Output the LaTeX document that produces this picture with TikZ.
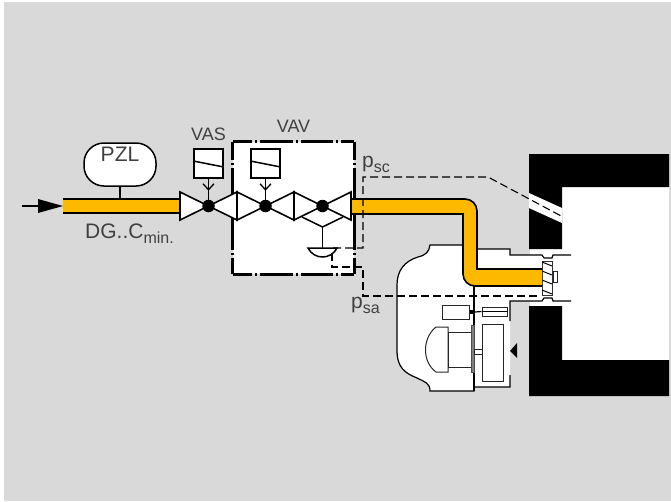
\documentclass[tikz,border=0pt]{standalone}
\usepackage{fontspec}
\setmainfont{Liberation Sans}
\usepackage{color}
\definecolor{bggray}{HTML}{D9D9D9}
\definecolor{gasyellow}{HTML}{FDB900}
\tikzstyle{lbl}=[inner sep=0pt,anchor=base west,text=black!75,font=\fontsize{21}{21}\selectfont]
\tikzstyle{smalllbl}=[lbl,anchor=base,font=\fontsize{18}{18}\selectfont]
\tikzstyle{ln}=[line width=1.2pt,black]
\tikzstyle{pipeln}=[line width=1.6pt,black]
\tikzstyle{vline}=[line width=1.6pt,draw=black,fill=white,line join=miter]
\tikzstyle{dot}=[circle,fill=black,draw=none,minimum size=12.5pt,inner sep=0pt]
\tikzstyle{actbox}=[rectangle,draw=black,line width=1.5pt,fill=white,minimum width=29pt,minimum height=29pt,inner sep=0pt]
\tikzstyle{dashln}=[line width=1.1pt,black,dash pattern=on 8pt off 4pt]
\tikzstyle{frameln}=[line width=2.7pt,black]
\tikzstyle{partbox}=[rectangle,draw=black!85,line width=1pt,fill=white,inner sep=0pt]
\newcommand{\lowtxt}[1]{\raisebox{-5pt}{\fontsize{16}{16}\selectfont #1}}

\begin{document}
\begin{tikzpicture}[x=1pt,y=-1pt]
  \useasboundingbox (0,0) rectangle (671,501);
  \fill[bggray] (4,2) rectangle (671,501);
  % burner and chamber
  \fill[white] (430,245) -- (477,245) -- (477,249) -- (510,249) -- (510,255) -- (530,255) -- (530,249)
    -- (562,249) -- (562,187) -- (669,187) -- (669,360) -- (562,360) -- (562,306) -- (530,306) -- (530,301)
    -- (510,301) -- (510,387) -- (474,387) -- (474,391) -- (430,391) .. controls (430,383) and (425,382) .. (417,378)
    .. controls (405,373) and (397,368) .. (397,350) -- (397,285) .. controls (397,270) and (405,261) .. (418,257)
    .. controls (426,255) and (429,252) .. (430,245) -- cycle;
  \fill[black] (529,154) -- (669,154) -- (669,187) -- (562,187) -- (562,249) -- (529,249) -- cycle;
  \fill[black] (529,306) -- (562,306) -- (562,360) -- (669,360) -- (669,396) -- (529,396) -- cycle;
  \fill[white] (529,193) -- (562,208) -- (562,223) -- (529,208) -- cycle;
  \draw[ln] (463,245) -- (430,245) .. controls (429,252) and (426,255) .. (418,257)
    .. controls (405,261) and (397,270) .. (397,285) -- (397,350) .. controls (397,368) and (405,373) .. (417,378)
    .. controls (425,382) and (430,383) .. (430,391) -- (474,391) -- (474,387) -- (510,387) -- (510,375);
  \draw[ln] (474,286) -- (474,391);
  \draw[ln] (477,249) -- (510,249) -- (510,255) -- (542,255) -- (544,258) -- (552,258) -- (553,255) -- (571,255);
  \draw[ln] (510,321) -- (510,301) -- (542,301) -- (544,298) -- (552,298) -- (553,301) -- (571,301);
  % motor
  \node[partbox,minimum width=27pt,minimum height=14pt] (sensor) at (455.5,312) {};
  \node[partbox,minimum width=25pt,minimum height=9pt] (rod) at (494.5,311.5) {};
  \draw[line width=0.8pt] (rod.west) -- (rod.east);
  \draw[line width=3.5pt] (sensor.east) -- (475,312);
  \draw[ln] (475,312) -- (rod.west);
  \draw[partbox] (448,327) -- (436,327) .. controls (422,338) and (422,362) .. (436,372) -- (448,372) -- cycle;
  \node[partbox,minimum width=24pt,minimum height=35pt] (motor) at (460,349.5) {};
  \node[rectangle,draw=black!70,fill=gray,line width=0.5pt,minimum width=2.5pt,minimum height=47pt,inner sep=0pt] (flange) at (472.8,348.5) {};
  \node[partbox,minimum width=21pt,minimum height=57pt] (wheel) at (492.5,352.5) {};
  \node[partbox,minimum width=8pt,minimum height=5pt] (shaft) at (478,351.5) {};
  \fill[black] (510,351) -- (517,343) -- (517,358) -- cycle;
  % feed pipe
  \fill[gasyellow] (63,199) rectangle (180,213);
  \draw[pipeln] (63,199) -- (180,199);
  \draw[pipeln] (63,213) -- (180,213);
  \draw[line width=1.8pt] (22,206) -- (40,206);
  \fill[black] (63,206) -- (38,199) -- (38,213) -- cycle;
  % burner head
  \node[rectangle,draw=black!80,line width=1pt,fill=white,minimum width=10pt,minimum height=34pt,inner sep=0pt] (head) at (547,278) {};
  \foreach \y in {262,271,280,290} {
    \draw[line width=1pt] (542,\y) -- (552,\y+4);
  }
  \node[partbox,minimum width=4pt,minimum height=11pt] (tip) at (555.5,276.5) {};
  % VAV frame
  \node[rectangle,fill=white,minimum width=121pt,minimum height=132pt,inner sep=0pt] (vav) at (293.5,208) {};
  \draw[frameln,dash pattern=on 18pt off 3pt on 2pt off 3pt on 82pt off 3pt on 2pt off 3pt on 30pt] (vav.north west) -- (vav.south west);
  \draw[frameln,dash pattern=on 18pt off 3pt on 2pt off 3pt on 82pt off 3pt on 2pt off 3pt on 30pt] (vav.north east) -- (vav.south east);
  \draw[frameln,dash pattern=on 19pt off 3pt on 2pt off 3pt on 33pt off 3pt on 2pt off 3pt on 32pt off 3pt on 2pt off 3pt on 30pt] (vav.north west) -- (vav.north east);
  \draw[frameln,dash pattern=on 19pt off 3pt on 2pt off 3pt on 33pt off 3pt on 2pt off 3pt on 32pt off 3pt on 2pt off 3pt on 30pt] (vav.south west) -- (vav.south east);
  % burner pipe
  \fill[gasyellow] (351,199) [rounded corners=12pt] -- (477,199) [sharp corners] -- (477,269) -- (542,269)
    -- (542,286) [rounded corners=12pt] -- (463,286) [sharp corners] -- (463,214) -- (351,214) -- cycle;
  \draw[pipeln] (351,199) [rounded corners=12pt] -- (477,199) [sharp corners] -- (477,269) -- (542,269);
  \draw[pipeln] (542,286) [rounded corners=12pt] -- (463,286) [sharp corners] -- (463,214) -- (351,214);
  % PZL
  \node[rectangle,rounded corners=20pt,draw=black,line width=1.5pt,fill=white,minimum width=72pt,minimum height=43pt,inner sep=0pt] (pzl) at (120,164.5) {};
  \coordinate (tap) at (120,199);
  \draw[line width=2.2pt] (pzl.south) -- (tap);
  % valves
  \coordinate (vasc) at (208.5,206);
  \coordinate (vavc) at (265.5,206);
  \coordinate (vavd) at (322.5,206);
  \foreach \c in {vasc,vavc,vavd} {
    \draw[vline] (\c) -- ++(-28.5,-14) -- ++(0,28) -- cycle;
    \draw[vline] (\c) -- ++(28.5,-14) -- ++(0,28) -- cycle;
  }
  \coordinate (difftop) at (322.5,248);
  \draw[line width=1.5pt] (302,217) -- (322.5,227) -- (343,217);
  \draw[line width=1.5pt] (322.5,227) -- (difftop);
  \draw[line width=1.5pt,fill=white] (308,248) .. controls (314,260) and (331,260) .. (337,248) -- cycle;
  \node[dot] (vasdot) at (vasc) {};
  \node[dot] (vavdot) at (vavc) {};
  \node[dot] (gasdot) at (vavd) {};
  % actuators
  \node[actbox] (vasact) at (208.5,163.5) {};
  \node[actbox] (vavact) at (265.5,163.5) {};
  \foreach \a in {vasact,vavact} {
    \draw[line width=1.5pt] ([yshift=2.5pt]\a.west) -- ([yshift=-3.5pt]\a.east);
    \draw[line width=1.3pt] (\a.south) -- ++(0,22);
    \draw[line width=1.3pt] ([xshift=-5.5pt,yshift=-5pt]\a.south) -- ([yshift=-11pt]\a.south) -- ([xshift=5.5pt,yshift=-5pt]\a.south);
  }
  % pressure lines
  \coordinate (psca) at (333,248);
  \coordinate (pscb) at (363,248);
  \coordinate (pscc) at (363,177);
  \coordinate (pscd) at (488,177);
  \coordinate (psce) at (563,217);
  \draw[dashln] (psca) -- (pscb) -- (pscc) -- (pscd) -- (psce);
  \coordinate (psaa) at (332,253);
  \coordinate (psab) at (332,267);
  \coordinate (psac) at (363,267);
  \coordinate (psad) at (363,296);
  \coordinate (psae) at (540,296);
  \draw[dashln] (psaa) -- (psab) -- (psac) -- (psad) -- (psae);
  % labels
  \node[lbl,anchor=base] (pzltxt) at (120,161) {PZL};
  \node[smalllbl] (vastxt) at (208.5,140) {VAS};
  \node[smalllbl] (vavtxt) at (293.5,132) {VAV};
  \node[lbl] (dgtxt) at (85,238) {DG..C\lowtxt{min.}};
  \node[lbl] (psctxt) at (362,167) {p\lowtxt{sc}};
  \node[lbl] (psatxt) at (351,308) {p\lowtxt{sa}};
\end{tikzpicture}
\end{document}
